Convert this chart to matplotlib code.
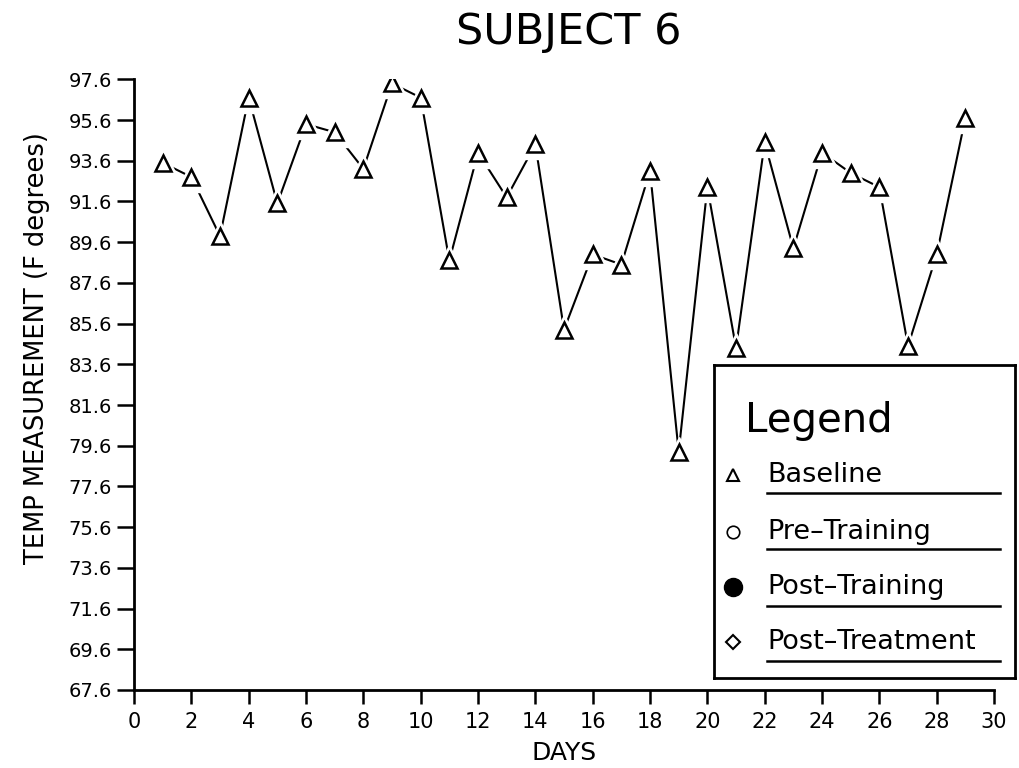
import matplotlib
matplotlib.use("Agg")
import matplotlib.pyplot as plt
from matplotlib.lines import Line2D

# baseline readings, one per day
days = list(range(1, 30))
temps = [93.5, 92.8, 89.9, 96.7, 91.5, 95.4, 95.0, 93.2, 97.4, 96.7,
         88.7, 94.0, 91.8, 94.4, 85.3, 89.0, 88.5, 93.1, 79.3, 92.3,
         84.4, 94.5, 89.3, 94.0, 93.0, 92.3, 84.5, 89.0, 95.7]

yticks = [67.6, 69.6, 71.6, 73.6, 75.6, 77.6, 79.6, 81.6, 83.6, 85.6,
          87.6, 89.6, 91.6, 93.6, 95.6, 97.6]
xticks = list(range(0, 31, 2))

legend_labels = ["Baseline", "Pre\u2013Training", "Post\u2013Training", "Post\u2013Treatment"]

plt.rcParams['font.family'] = ['DejaVu Sans']

fig = plt.figure(figsize=(10.19, 7.68), dpi=100)
ax = fig.add_axes([0.1315, 0.1016, 0.844, 0.7951])

# line, then white halo so the line stops short of each marker, then markers
ax.plot(days, temps, color="black", lw=1.5, zorder=1)
ax.plot(days, temps, ls="none", marker="^", ms=21, mfc="white", mec="white", zorder=2)
ax.plot(days, temps, ls="none", marker="^", ms=11.5, mfc="white", mec="black", mew=1.8, zorder=3)

ax.set_xlim(0, 30)
ax.set_ylim(67.6, 97.6)
ax.set_xticks(xticks)
ax.set_yticks(yticks)
ax.set_yticklabels([f"{v:.1f}" for v in yticks])
ax.tick_params(axis="y", direction="out", length=12, width=1.8, labelsize=14, pad=4)
ax.tick_params(axis="x", direction="out", length=10, width=1.8, labelsize=15, pad=6)
for s in ["top", "right"]:
    ax.spines[s].set_visible(False)
for s in ["left", "bottom"]:
    ax.spines[s].set_linewidth(2)

ax.set_xlabel("DAYS", fontsize=18, labelpad=6)
fig.text(0.036, 0.547, "TEMP MEASUREMENT (F degrees)", rotation=90,
         ha="center", va="center", fontsize=18.5)
fig.text(0.558, 0.958, "SUBJECT 6", ha="center", va="center", fontsize=31)

# hand-made legend box
lg = fig.add_axes([0.7007, 0.1172, 0.2954, 0.4076])
lg.set_xlim(0, 1)
lg.set_ylim(0, 1)
lg.set_xticks([])
lg.set_yticks([])
for s in lg.spines.values():
    s.set_linewidth(2)
lg.text(0.103, 0.786, "Legend", fontsize=29, va="baseline", ha="left")

markers = [dict(marker="^", ms=9, mfc="white", mec="black", mew=1.5),
           dict(marker="o", ms=9, mfc="white", mec="black", mew=1.2),
           dict(marker="o", ms=13, mfc="black", mec="black"),
           dict(marker="D", ms=7.5, mfc="white", mec="black", mew=1.5)]
rows = [0.649, 0.466, 0.291, 0.115]
lines_y = [0.591, 0.412, 0.230, 0.054]
for lab, mk, yr, yl in zip(legend_labels, markers, rows, lines_y):
    lg.plot([0.063], [yr], ls="none", **mk)
    lg.text(0.176, yr, lab, fontsize=19.5, va="center", ha="left")
    lg.add_line(Line2D([0.176, 0.95], [yl, yl], color="black", lw=1.8))

fig.savefig("out.png", dpi=100)
